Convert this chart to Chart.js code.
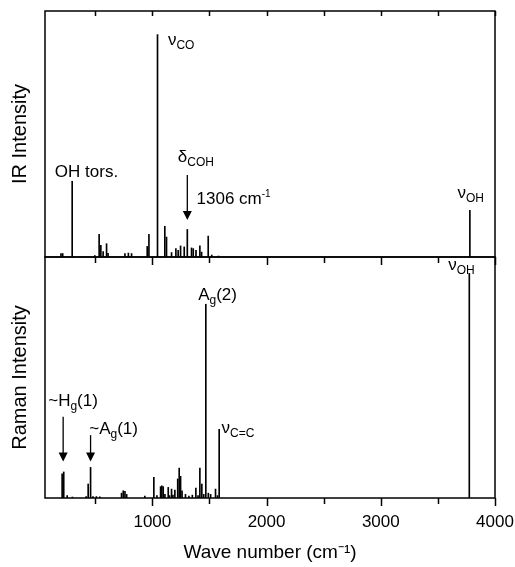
<!DOCTYPE html>
<html>
<head>
<meta charset="utf-8">
<script src="https://cdn.jsdelivr.net/npm/chart.js@4.4.1/dist/chart.umd.min.js"></script>
<style>
  body { margin: 0; background: #fff; }
  #wrap { position: relative; width: 515px; height: 567px; }
  #irChart { position: absolute; left: 0; top: 0; }
  #ramanChart { position: absolute; left: 0; top: 250px; }
</style>
</head>
<body>
<div id="wrap">
  <canvas id="ramanChart" width="515" height="317"></canvas>
  <canvas id="irChart" width="515" height="270"></canvas>
</div>
<script>
// Wave number axis
const xMin = 60;
const xMax = 4000;
const majorTicks = [1000, 2000, 3000, 4000];
const minorTicks = [500, 1500, 2500, 3500];

// IR spectrum (stick positions in cm-1, relative intensity)
const irWave = [200, 215, 298, 496, 534, 549, 569, 599, 612, 760, 790, 818, 955, 970, 1045,
    1109, 1124, 1168, 1206, 1226, 1247, 1279, 1306, 1343, 1358, 1382, 1416, 1431, 1489, 1520, 1580, 3780];
const irInt = [0.014, 0.014, 0.308, 0.006, 0.092, 0.047, 0.022, 0.054, 0.015, 0.014, 0.016, 0.014, 0.043, 0.092, 0.904,
    0.125, 0.081, 0.018, 0.034, 0.027, 0.045, 0.041, 0.112, 0.037, 0.034, 0.027, 0.045, 0.02, 0.085, 0.008, 0.004, 0.19];

// Raman spectrum
const ramanWave = [210, 224, 254, 300, 420, 438, 459, 480, 510, 540, 730, 745, 760, 775, 934,
    1013, 1040, 1072, 1083, 1095, 1110, 1139, 1150, 1168, 1180, 1197, 1222, 1235, 1247, 1260,
    1290, 1320, 1350, 1381, 1400, 1416, 1433, 1450, 1468, 1490, 1510, 1553, 1570, 1585, 3775];
const ramanInt = [0.1, 0.108, 0.01, 0.004, 0.006, 0.058, 0.127, 0.006, 0.006, 0.005, 0.02, 0.03, 0.028, 0.015, 0.008,
    0.086, 0.01, 0.047, 0.05, 0.047, 0.015, 0.044, 0.01, 0.037, 0.012, 0.033, 0.079, 0.124, 0.09, 0.03,
    0.015, 0.008, 0.012, 0.041, 0.01, 0.124, 0.058, 0.015, 0.804, 0.02, 0.015, 0.037, 0.01, 0.285, 0.932];

// Peak labels: [text, 'n' | 'sub' | 'sup']
const irNotes = [
    { x: 146, y: 0.326, parts: [['OH tors.', 'n']] },
    { x: 1136, y: 0.862, parts: [['ν', 'n'], ['CO', 'sub']] },
    { x: 1223, y: 0.386, parts: [['δ', 'n'], ['COH', 'sub']] },
    { x: 1387, y: 0.215, parts: [['1306 cm', 'n'], ['-1', 'sup']] },
    { x: 3672, y: 0.239, parts: [['ν', 'n'], ['OH', 'sub']] }
];
const irArrows = [{ x: 1306, from: 0.333, to: 0.15 }];

const ramanNotes = [
    { x: 88, y: 0.38, parts: [['~H', 'n'], ['g', 'sub'], ['(1)', 'n']] },
    { x: 447, y: 0.266, parts: [['~A', 'n'], ['g', 'sub'], ['(1)', 'n']] },
    { x: 1401, y: 0.822, parts: [['A', 'n'], ['g', 'sub'], ['(2)', 'n']] },
    { x: 1606, y: 0.27, parts: [['ν', 'n'], ['C=C', 'sub']] },
    { x: 3590, y: 0.945, parts: [['ν', 'n'], ['OH', 'sub']] }
];
const ramanArrows = [{ x: 219, from: 0.337, to: 0.151 }, { x: 459, from: 0.261, to: 0.151 }];

const FONT = '"Liberation Sans", Arial, sans-serif';

function drawParts(ctx, x, y, parts) {
    let cx = x;
    parts.forEach(([t, kind]) => {
        const size = kind === 'n' ? 17 : (kind === 'sub' ? 12 : 10);
        const dy = kind === 'sub' ? 4 : (kind === 'sup' ? -7 : 0);
        ctx.font = `${size}px ${FONT}`;
        ctx.fillText(t, cx, y + dy);
        cx += ctx.measureText(t).width;
    });
}

// frame, tick marks and peak annotations
const framePlugin = {
    id: 'frame',
    afterDraw(chart, args, opts) {
        const ctx = chart.ctx;
        const { left, right, top, bottom } = chart.chartArea;
        const xs = chart.scales.x;
        const ys = chart.scales.y;
        ctx.save();
        ctx.strokeStyle = '#000';
        ctx.fillStyle = '#000';
        ctx.lineWidth = 1.5;
        ctx.strokeRect(left, top, right - left, bottom - top);

        const tick = (v, y0, len) => {
            const px = Math.round(xs.getPixelForValue(v)) + 0.5;
            ctx.beginPath();
            ctx.moveTo(px, y0);
            ctx.lineTo(px, y0 + len);
            ctx.stroke();
        };
        if (opts.topIn) {
            majorTicks.concat(minorTicks).forEach(v => tick(v, top, 5));
        }
        majorTicks.forEach(v => tick(v, bottom, 8));
        minorTicks.forEach(v => tick(v, bottom, 6));

        ctx.textAlign = 'left';
        ctx.textBaseline = 'alphabetic';
        (opts.notes || []).forEach(n => {
            drawParts(ctx, xs.getPixelForValue(n.x), ys.getPixelForValue(n.y), n.parts);
        });
        ctx.lineWidth = 1.3;
        (opts.arrows || []).forEach(a => {
            const px = xs.getPixelForValue(a.x);
            const y1 = ys.getPixelForValue(a.from);
            const y2 = ys.getPixelForValue(a.to);
            ctx.beginPath();
            ctx.moveTo(px, y1);
            ctx.lineTo(px, y2 - 6);
            ctx.stroke();
            ctx.beginPath();
            ctx.moveTo(px - 4.5, y2 - 9);
            ctx.lineTo(px + 4.5, y2 - 9);
            ctx.lineTo(px, y2);
            ctx.closePath();
            ctx.fill();
        });
        ctx.restore();
    }
};

function yAxis(title) {
    return {
        type: 'linear',
        min: 0,
        max: 1,
        grid: { display: false, drawTicks: false },
        border: { display: false },
        ticks: { display: false },
        title: {
            display: true,
            text: title,
            color: '#000',
            font: { family: FONT, size: 20 },
            padding: { top: 8, bottom: 0 }
        },
        afterFit: s => { s.width = 45; }
    };
}

function sticks(wave, vals) {
    return [{
        data: wave.map((x, i) => ({ x: x, y: vals[i] })),
        backgroundColor: '#000',
        borderWidth: 0,
        barThickness: 1
    }];
}

new Chart(document.getElementById('irChart'), {
    type: 'bar',
    data: { datasets: sticks(irWave, irInt) },
    options: {
        responsive: false,
        animation: false,
        layout: { padding: { left: 0, right: 20, top: 11, bottom: 13 } },
        plugins: {
            legend: { display: false },
            tooltip: { enabled: false },
            frame: { topIn: true, notes: irNotes, arrows: irArrows }
        },
        scales: {
            x: { type: 'linear', min: xMin, max: xMax, offset: false, display: false },
            y: yAxis('IR Intensity')
        }
    },
    plugins: [framePlugin]
});

new Chart(document.getElementById('ramanChart'), {
    type: 'bar',
    data: { datasets: sticks(ramanWave, ramanInt) },
    options: {
        responsive: false,
        animation: false,
        layout: { padding: { left: 0, right: 20, top: 7, bottom: 0 } },
        plugins: {
            legend: { display: false },
            tooltip: { enabled: false },
            frame: { topIn: false, notes: ramanNotes, arrows: ramanArrows }
        },
        scales: {
            x: {
                type: 'linear',
                min: xMin,
                max: xMax,
                offset: false,
                grid: { display: false, drawTicks: false },
                border: { display: false },
                afterBuildTicks: s => { s.ticks = majorTicks.map(v => ({ value: v })); },
                ticks: {
                    color: '#000',
                    padding: 14,
                    maxRotation: 0,
                    font: { family: FONT, size: 17 },
                    callback: v => String(v)
                },
                title: {
                    display: true,
                    text: 'Wave number (cm⁻¹)',
                    color: '#000',
                    font: { family: FONT, size: 19 },
                    padding: { top: 0, bottom: 3 }
                },
                afterFit: s => {
                    s.height = 69;
                    s.paddingLeft = 0;
                    s.paddingRight = 0;
                }
            },
            y: yAxis('Raman Intensity')
        }
    },
    plugins: [framePlugin]
});
</script>
</body>
</html>
